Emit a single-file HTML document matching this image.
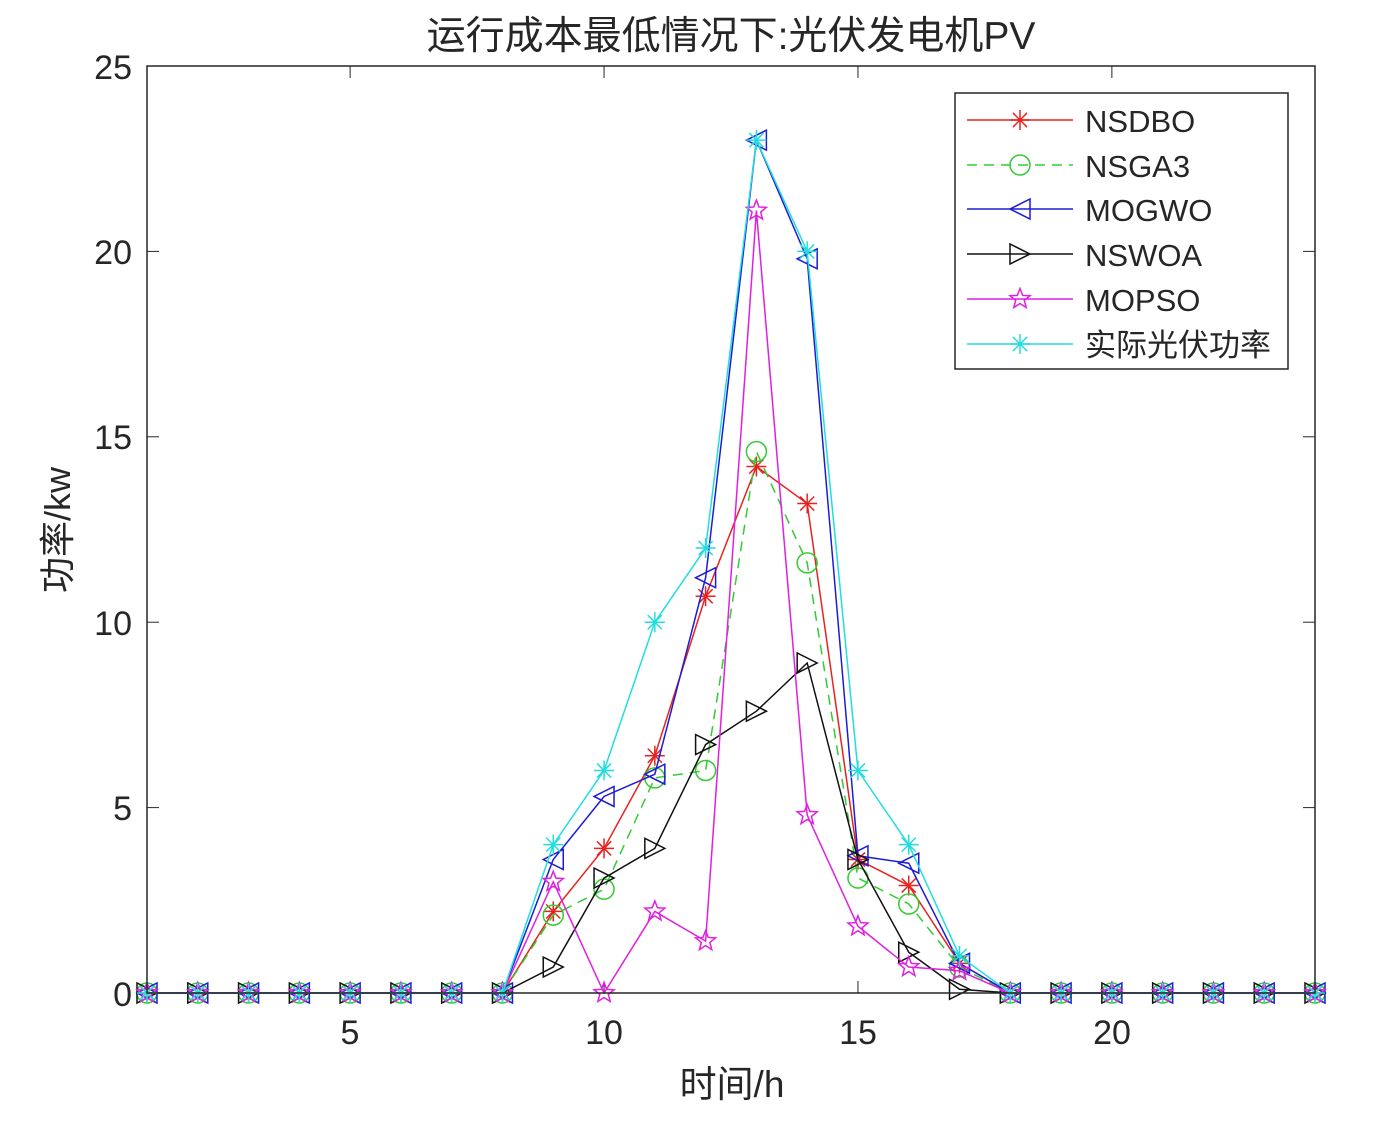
<!DOCTYPE html>
<html><head><meta charset="utf-8"><style>
body{margin:0;background:#fff;}
text{font-family:"Liberation Sans","Noto Sans CJK SC",sans-serif;fill:#262626;}
</style></head><body>
<svg id="s" width="1388" height="1122" xmlns="http://www.w3.org/2000/svg">
<rect width="1388" height="1122" fill="#fff"/>
<text x="731" y="49" font-size="39" text-anchor="middle">运行成本最低情况下:光伏发电机PV</text>
<text x="732" y="1097" font-size="37" text-anchor="middle">时间/h</text>
<text transform="translate(70,530) rotate(-90)" font-size="36" text-anchor="middle">功率/kw</text>
<g font-size="34" text-anchor="end">
<text x="132" y="1006">0</text><text x="132" y="820">5</text><text x="132" y="635">10</text>
<text x="132" y="449">15</text><text x="132" y="264">20</text><text x="132" y="79">25</text>
</g>
<g font-size="34" text-anchor="middle">
<text x="350" y="1044">5</text><text x="604" y="1044">10</text><text x="858" y="1044">15</text><text x="1112" y="1044">20</text>
</g>
<g id="plot"></g>
<rect x="147" y="66" width="1168" height="927" fill="none" stroke="#262626" stroke-width="1.5"/>
<g id="leg">
<rect x="955" y="93" width="333" height="276" fill="#fff" stroke="#262626" stroke-width="1.5"/>
<g font-size="31">
<text x="1085" y="132">NSDBO</text><text x="1085" y="177">NSGA3</text><text x="1085" y="221">MOGWO</text>
<text x="1085" y="266">NSWOA</text><text x="1085" y="311">MOPSO</text><text x="1085" y="356">实际光伏功率</text>
</g>
</g>
</svg>
<script>
const X=x=>147+(x-1)*1168/23, Y=y=>993-y*927/25;
const z=Array(8).fill(0), t=Array(7).fill(0);
const S=[
{c:'#e8231f',m:'ast',d:[...z,2.2,3.9,6.4,10.7,14.2,13.2,3.6,2.9,0.8,...t]},
{c:'#33cc33',m:'circ',dash:'10,7',d:[...z,2.1,2.8,5.8,6.0,14.6,11.6,3.1,2.4,0.7,...t]},
{c:'#1c1cd8',m:'tl',d:[...z,3.6,5.3,5.9,11.2,23.0,19.8,3.7,3.5,0.8,...t]},
{c:'#111',m:'tr',d:[...z,0.7,3.1,3.9,6.7,7.6,8.9,3.6,1.1,0.1,...t]},
{c:'#e020e0',m:'star',d:[...z,3.0,0,2.2,1.4,21.1,4.8,1.8,0.7,0.6,...t]},
{c:'#22dddd',m:'ast',d:[...z,4,6,10,12,23,20,6,4,1,...t]}];
function mk(m,x,y,c){
 const r=10;
 if(m=='ast'){let p='';for(let a=0;a<4;a++){const an=a*Math.PI/4;p+=`M${x-r*Math.cos(an)},${y-r*Math.sin(an)}L${x+r*Math.cos(an)},${y+r*Math.sin(an)}`;}return `<path d="${p}" stroke="${c}" stroke-width="1.5" fill="none"/>`;}
 if(m=='circ')return `<circle cx="${x}" cy="${y}" r="${r}" stroke="${c}" stroke-width="1.5" fill="none"/>`;
 if(m=='tl')return `<path d="M${x-r},${y}L${x+r},${y-r}L${x+r},${y+r}Z" stroke="${c}" stroke-width="1.5" fill="none"/>`;
 if(m=='tr')return `<path d="M${x+r},${y}L${x-r},${y-r}L${x-r},${y+r}Z" stroke="${c}" stroke-width="1.5" fill="none"/>`;
 let p='';for(let i=0;i<10;i++){const rr=i%2?r*0.45:r*1.05,an=-Math.PI/2+i*Math.PI/5;p+=(i?'L':'M')+(x+rr*Math.cos(an))+','+(y+rr*Math.sin(an));}
 return `<path d="${p}Z" stroke="${c}" stroke-width="1.5" fill="none"/>`;
}
let h='';
for(let i=2;i<=24;i++){if(i%5==0){h+=`<line x1="${X(i)}" y1="993" x2="${X(i)}" y2="981" stroke="#262626"/><line x1="${X(i)}" y1="66" x2="${X(i)}" y2="78" stroke="#262626"/>`;}}
for(let v=5;v<25;v+=5){h+=`<line x1="147" y1="${Y(v)}" x2="159" y2="${Y(v)}" stroke="#262626"/><line x1="1315" y1="${Y(v)}" x2="1303" y2="${Y(v)}" stroke="#262626"/>`;}
for(const s of S){h+=`<polyline points="${s.d.map((v,i)=>X(i+1)+','+Y(v)).join(' ')}" fill="none" stroke="${s.c}" stroke-width="1.5" ${s.dash?'stroke-dasharray="'+s.dash+'"':''}/>`;
 s.d.forEach((v,i)=>h+=mk(s.m,X(i+1),Y(v),s.c));}
document.getElementById('plot').innerHTML=h;
let l='';const ly=[120,165,209,254,299,344];
S.forEach((s,i)=>{l+=`<line x1="967" y1="${ly[i]}" x2="1073" y2="${ly[i]}" stroke="${s.c}" stroke-width="1.5" ${s.dash?'stroke-dasharray="'+s.dash+'"':''}/>`+mk(s.m,1020,ly[i],s.c);});
document.getElementById('leg').insertAdjacentHTML('beforeend',l);
</script>
</body></html>
